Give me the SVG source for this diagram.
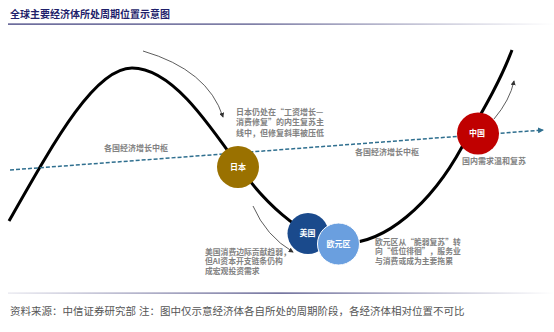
<svg xmlns="http://www.w3.org/2000/svg" width="554" height="332" viewBox="0 0 554 332">
<style>
text{font-family:"Liberation Sans","Noto Sans CJK SC",sans-serif;}
.title{font-size:10px;font-weight:bold;fill:#1f1f6b;}
.src{font-size:10.5px;fill:#555;}
.note{font-family:"Noto Sans CJK SC","Liberation Sans",sans-serif;font-size:8px;font-weight:bold;fill:#828282;}
.sm{font-size:7.8px;}
.lbl{font-size:8px;font-weight:bold;fill:#fff;text-anchor:middle;}
.thin{fill:none;stroke:#333;stroke-width:0.8;}
</style>
<defs>
<linearGradient id="gTop" x1="0" y1="0" x2="1" y2="0">
<stop offset="0" stop-color="#2e2e72"/>
<stop offset="0.45" stop-color="#4a4a82"/>
<stop offset="1" stop-color="#ffffff"/>
</linearGradient>
<linearGradient id="gBot" x1="0" y1="0" x2="1" y2="0">
<stop offset="0" stop-color="#e6e6ee"/>
<stop offset="0.5" stop-color="#3c3c78"/>
<stop offset="1" stop-color="#ffffff"/>
</linearGradient>
<marker id="ah" viewBox="0 0 6 6" refX="5" refY="3" markerWidth="5" markerHeight="5" orient="auto" markerUnits="userSpaceOnUse">
<path d="M0,0 L6,3 L0,6 z" fill="#333"/>
</marker>
<marker id="ahb" viewBox="0 0 6 6" refX="5" refY="3" markerWidth="6" markerHeight="6" orient="auto" markerUnits="userSpaceOnUse">
<path d="M0,0 L6,3 L0,6 z" fill="#2f6f8f"/>
</marker>
</defs>
<rect width="554" height="332" fill="#fff"/>
<text class="title" x="10" y="17.5">全球主要经济体所处周期位置示意图</text>
<rect x="8" y="23.5" width="546" height="1.2" fill="url(#gTop)"/>
<rect x="8" y="292.5" width="546" height="1.2" fill="url(#gBot)"/>
<text class="src" x="10" y="314.5">资料来源：中信证券研究部 注：图中仅示意经济体各自所处的周期阶段，各经济体相对位置不可比</text>

<g id="connectors">
<path id="cycle" d="M9,221 C55,140 95,68 132,68 C170,68 205,118 240,168 C260,196 300,240 340,243 C385,246 432,202 462,147 C482,112 500,82 512,50" fill="none" stroke="#000" stroke-width="3"/>
<path id="trend" d="M10,170 L543,130" fill="none" stroke="#2f6f8f" stroke-width="1.5" stroke-dasharray="4 2" marker-end="url(#ahb)"/>
<path class="thin" d="M143,51 Q208,70 223,117" marker-end="url(#ah)"/>
<path class="thin" d="M253,206 Q266,236 293,252" marker-end="url(#ah)"/>
<path class="thin" d="M494,119 Q510,100 514,81" marker-end="url(#ah)"/>
</g>

<text class="note" x="104" y="151.3">各国经济增长中枢</text>
<text class="note" x="355" y="154.7">各国经济增长中枢</text>

<g id="japan">
<circle cx="238" cy="167" r="21" fill="#9a7100"/>
<text class="lbl" x="238" y="170">日本</text>
<text class="note" x="236" y="114.7">日本仍处在“工资增长—</text>
<text class="note" x="236" y="125.3">消费修复”的内生复苏主</text>
<text class="note" x="236" y="135.7">线中，但修复斜率被压低</text>
</g>

<g id="usa">
<circle cx="308" cy="233.5" r="20.5" fill="#1a4a8c"/>
<text class="lbl" x="307.5" y="236.3">美国</text>
<text class="note sm" x="205" y="254.5">美国消费边际贡献趋弱，</text>
<text class="note sm" x="205" y="264">但AI资本开支链条仍构</text>
<text class="note sm" x="205" y="273.5">成宏观投资需求</text>
</g>

<g id="euro">
<circle cx="338.5" cy="244" r="21" fill="#6a9fdf" stroke="#fff" stroke-width="1"/>
<text class="lbl" x="338.5" y="246.8">欧元区</text>
<text class="note sm" x="375" y="244.5">欧元区从“脆弱复苏”转</text>
<text class="note sm" x="375" y="254">向“低位徘徊”，服务业</text>
<text class="note sm" x="375" y="263.5">与消费或成为主要拖累</text>
</g>

<g id="china">
<circle cx="478" cy="133.5" r="21" fill="#c00000"/>
<text class="lbl" x="477" y="136.3">中国</text>
<text class="note" x="462" y="163.7">国内需求温和复苏</text>
</g>
</svg>
